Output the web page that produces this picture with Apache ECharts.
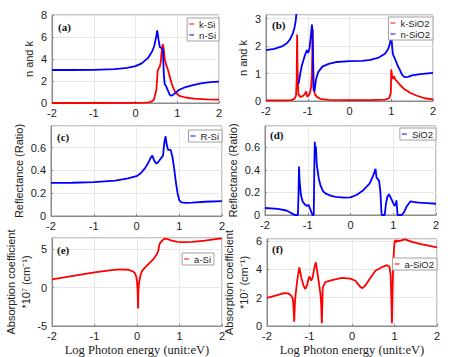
<!DOCTYPE html>
<html><head><meta charset="utf-8">
<script src="https://cdn.jsdelivr.net/npm/echarts@6/dist/echarts.min.js"></script>
<style>html,body{margin:0;padding:0;background:#fff}#c{width:457px;height:357px}</style>
</head><body><div id="c"></div>
<script>
// x tick labels (shared)
const xTicks = [-2, -1, 0, 1, 2];

// (a) n and k for Si
const kSiX = [-2, -1, 0, 0.2, 0.3, 0.38, 0.44, 0.5, 0.53, 0.55, 0.58, 0.6, 0.63, 0.65, 0.67, 0.7, 0.74, 0.78, 0.82, 0.88, 0.95, 1.05, 1.2, 1.4, 1.7, 2];
const kSiY = [0, 0, 0.01, 0.03, 0.06, 0.12, 0.3, 1.2, 2.9, 3.1, 3.3, 3.6, 4.8, 5.35, 5.1, 4.0, 3.4, 3.0, 2.4, 1.6, 1.0, 0.65, 0.5, 0.4, 0.33, 0.3];
const nSiX = [-2, -1.5, -1, -0.5, -0.2, 0, 0.15, 0.3, 0.4, 0.45, 0.5, 0.52, 0.55, 0.58, 0.62, 0.655, 0.68, 0.7, 0.73, 0.78, 0.82, 0.86, 0.9, 0.95, 1.05, 1.2, 1.4, 1.6, 1.8, 2];
const nSiY = [3.0, 3.0, 3.02, 3.08, 3.2, 3.35, 3.6, 4.1, 4.7, 5.2, 6.1, 6.6, 5.8, 5.1, 5.0, 4.9, 2.5, 1.7, 1.55, 1.1, 0.75, 0.65, 0.75, 0.9, 1.2, 1.45, 1.65, 1.8, 1.9, 1.95];

// (b) n and k for SiO2
const kSiO2X = [-2, -1.6, -1.4, -1.32, -1.28, -1.265, -1.255, -1.245, -1.225, -1.18, -1.12, -1.07, -1.04, -1.01, -0.98, -0.95, -0.92, -0.9, -0.88, -0.87, -0.86, -0.83, -0.78, -0.7, -0.5, 0, 0.5, 0.85, 0.95, 0.99, 1.0, 1.02, 1.04, 1.06, 1.08, 1.1, 1.15, 1.2, 1.3, 1.45, 1.6, 1.8, 2];
const kSiO2Y = [0.02, 0.02, 0.03, 0.08, 0.2, 0.8, 2.42, 1.2, 0.25, 0.15, 0.18, 0.25, 0.35, 0.15, 0.2, 0.3, 0.5, 1.0, 2.6, 1.5, 0.5, 0.25, 0.15, 0.08, 0.04, 0.03, 0.03, 0.05, 0.1, 0.3, 1.15, 0.9, 0.8, 0.9, 0.85, 0.78, 0.7, 0.6, 0.45, 0.3, 0.2, 0.1, 0.06];
const nSiO2X = [-2, -1.8, -1.6, -1.5, -1.42, -1.36, -1.32, -1.29, -1.27, -1.26, -1.25, -1.22, -1.18, -1.14, -1.1, -1.06, -1.02, -0.99, -0.96, -0.93, -0.9, -0.89, -0.86, -0.84, -0.8, -0.75, -0.65, -0.5, -0.3, 0, 0.3, 0.5, 0.7, 0.85, 0.93, 0.97, 1.0, 1.02, 1.04, 1.07, 1.1, 1.15, 1.2, 1.26, 1.32, 1.4, 1.5, 1.7, 2];
const nSiO2Y = [1.85, 1.9, 2.0, 2.1, 2.25, 2.45, 2.65, 2.9, 3.2, 3.5, null, 0.62, 1.0, 1.3, 1.5, 1.7, 1.85, 1.75, 1.9, 2.3, 2.78, 2.6, 0.4, 0.35, 0.8, 1.05, 1.25, 1.35, 1.42, 1.45, 1.46, 1.5, 1.58, 1.72, 1.9, 2.1, 2.45, 2.0, 1.7, 1.6, 1.5, 1.3, 1.15, 0.95, 0.87, 0.88, 0.93, 0.98, 1.02];

// (c) reflectance Si
const rSiX = [-2, -1.5, -1, -0.5, -0.2, 0, 0.1, 0.2, 0.28, 0.33, 0.37, 0.41, 0.46, 0.5, 0.56, 0.62, 0.65, 0.68, 0.71, 0.74, 0.8, 0.84, 0.88, 0.92, 0.96, 1.0, 1.05, 1.15, 1.3, 1.6, 2];
const rSiY = [0.29, 0.292, 0.297, 0.31, 0.33, 0.35, 0.375, 0.42, 0.47, 0.51, 0.53, 0.49, 0.46, 0.47, 0.5, 0.53, 0.64, 0.70, 0.62, 0.58, 0.58, 0.52, 0.42, 0.3, 0.2, 0.14, 0.12, 0.115, 0.118, 0.125, 0.13];

// (d) reflectance SiO2
const rSiO2X = [-2, -1.7, -1.5, -1.42, -1.35, -1.3, -1.23, -1.215, -1.205, -1.19, -1.16, -1.12, -1.06, -1.02, -0.98, -0.95, -0.92, -0.89, -0.86, -0.845, -0.835, -0.825, -0.81, -0.79, -0.74, -0.7, -0.64, -0.58, -0.45, -0.35, -0.15, 0, 0.15, 0.3, 0.45, 0.52, 0.56, 0.585, 0.61, 0.64, 0.67, 0.7, 0.72, 0.73, 0.8, 0.83, 0.86, 0.9, 0.97, 1.03, 1.06, 1.075, 1.1, 1.2, 1.26, 1.32, 1.4, 1.5, 1.6, 1.8, 2];
const rSiO2Y = [0.062, 0.055, 0.04, 0.025, 0.01, 0, 0, 0.2, 0.43, 0.3, 0.18, 0.12, 0.09, 0.08, 0.09, 0.06, 0.03, 0, 0, 0.45, 0.65, 0.55, 0.61, 0.45, 0.32, 0.26, 0.21, 0.19, 0.17, 0.16, 0.155, 0.157, 0.18, 0.22, 0.28, 0.34, 0.38, 0.41, 0.33, 0.32, 0.3, 0.2, 0.05, 0, 0, 0.1, 0.16, 0.185, 0.13, 0.08, 0.1, 0.13, 0, 0, 0.03, 0.08, 0.12, 0.115, 0.11, 0.105, 0.1];

// (e) absorption a-Si
const aSiX = [-2, -1.5, -1, -0.6, -0.4, -0.2, -0.1, -0.05, -0.02, 0.0, 0.015, 0.025, 0.035, 0.05, 0.08, 0.12, 0.18, 0.27, 0.38, 0.46, 0.5, 0.53, 0.56, 0.6, 0.65, 0.72, 0.8, 0.95, 1.1, 1.3, 1.6, 1.85, 2];
const aSiY = [1.1, 1.55, 2.0, 2.3, 2.4, 2.35, 2.15, 1.9, 1.5, 0.9, -0.5, -2.7, -0.2, 0.7, 1.6, 2.2, 2.6, 3.1, 3.7, 4.3, 4.8, 5.7, 5.95, 6.2, 6.42, 6.35, 6.2, 6.0, 5.95, 6.0, 6.15, 6.35, 6.45];

// (f) absorption a-SiO2
const aSiO2X = [-2, -1.8, -1.6, -1.5, -1.43, -1.39, -1.375, -1.36, -1.345, -1.33, -1.29, -1.24, -1.19, -1.14, -1.1, -1.06, -1.02, -1.0, -0.96, -0.93, -0.88, -0.85, -0.82, -0.77, -0.74, -0.725, -0.71, -0.695, -0.69, -0.63, -0.47, -0.24, -0.04, 0.08, 0.2, 0.25, 0.31, 0.43, 0.55, 0.7, 0.82, 0.88, 0.91, 0.925, 0.94, 0.955, 0.97, 1.0, 1.02, 1.04, 1.06, 1.1, 1.25, 1.41, 1.65, 2];
const aSiO2Y = [1.98, 2.15, 2.33, 2.3, 2.15, 1.9, 1.2, 0.3, 1.5, 2.15, 3.2, 4.15, 3.4, 2.85, 2.6, 2.85, 3.4, 3.5, 3.2, 3.4, 4.2, 4.5, 3.9, 2.85, 2.2, 1.5, 0.2, 1.8, 2.7, 3.1, 3.25, 3.4, 3.35, 3.2, 2.75, 2.68, 2.85, 3.4, 3.9, 4.15, 4.3, 4.2, 3.6, 2.0, 0.2, 2.5, 4.5, 5.95, 6.07, 5.9, 6.05, 6.0, 6.12, 5.95, 5.77, 5.55];

const RED = '#ff0000', BLUE = '#0000ff';
const SANS = '"Liberation Sans", Arial, sans-serif';
const SERIF = '"Liberation Serif", "Times New Roman", serif';
const AXC = '#8a8a8a';

function pairs(xs, ys) { return xs.map((x, i) => [x, ys[i]]); }

const grids = [
  {left: 52, top: 15, width: 167, height: 88},
  {left: 266, top: 15, width: 167, height: 86},
  {left: 51, top: 126, width: 171, height: 90},
  {left: 265, top: 126, width: 171, height: 89},
  {left: 52, top: 238, width: 170, height: 89},
  {left: 267, top: 239, width: 170, height: 89}
].map(g => Object.assign({show: true, borderColor: AXC, borderWidth: 1, backgroundColor: '#fff'}, g));

const xTitle = 'Log Photon energy (unit:eV)';
const xAxes = grids.map((g, i) => ({
  type: 'value', gridIndex: i, min: xTicks[0], max: xTicks[xTicks.length - 1], interval: 1,
  axisLine: {show: true, onZero: false, lineStyle: {color: AXC}},
  axisTick: {show: true, inside: true, length: 2, lineStyle: {color: AXC}},
  axisLabel: {color: '#222', fontSize: 11, fontFamily: SANS, margin: 4},
  splitLine: {show: true, lineStyle: {color: '#e8e8e8'}},
  name: i >= 4 ? xTitle : '', nameLocation: 'middle', nameGap: 17,
  nameTextStyle: {fontFamily: SERIF, fontSize: 12.5, color: '#222'}
}));

const yCfg = [
  {min: 0, max: 8, interval: 2, name: 'n and k', gap: 11},
  {min: 0, max: 3.13, interval: 1, name: 'n and k', gap: 9},
  {min: 0, max: 0.79, interval: 0.2, name: 'Reflectance (Ratio)', gap: 18},
  {min: 0, max: 0.79, interval: 0.2, name: 'Reflectance (Ratio)', gap: 18},
  {min: -5, max: 6.5, interval: 5, name: 'Absorption coefficient\n*10\u2077 (cm\u207B\u00B9)', gap: 13},
  {min: 0, max: 6.15, interval: 2, name: 'Absorption coefficient\n*10\u2077 (cm\u207B\u00B9)', gap: 14}
];
const yAxes = yCfg.map((c, i) => ({
  type: 'value', gridIndex: i, min: c.min, max: c.max, interval: c.interval,
  axisLine: {show: true, onZero: false, lineStyle: {color: AXC}},
  axisTick: {show: true, inside: true, length: 2, lineStyle: {color: AXC}},
  axisLabel: {color: '#222', fontSize: 11, fontFamily: SANS, margin: 5, showMaxLabel: i === 0},
  splitLine: {show: true, lineStyle: {color: '#e8e8e8'}},
  name: c.name, nameLocation: 'middle', nameGap: c.gap,
  nameTextStyle: {fontFamily: SANS, fontSize: 11, color: '#222', lineHeight: 15}
}));

function line(name, xs, ys, color, idx) {
  return {
    name, type: 'line', xAxisIndex: idx, yAxisIndex: idx, data: pairs(xs, ys),
    showSymbol: false, symbol: 'none', connectNulls: false, smooth: false,
    lineStyle: {color, width: 1.8}, itemStyle: {color}, animation: false
  };
}

const series = [
  line('k-Si', kSiX, kSiY, RED, 0),
  line('n-Si', nSiX, nSiY, BLUE, 0),
  line('k-SiO2', kSiO2X, kSiO2Y, RED, 1),
  line('n-SiO2', nSiO2X, nSiO2Y, BLUE, 1),
  line('R-Si', rSiX, rSiY, BLUE, 2),
  line('SiO2', rSiO2X, rSiO2Y, BLUE, 3),
  line('a-Si', aSiX, aSiY, RED, 4),
  line('a-SiO2', aSiO2X, aSiO2Y, RED, 5)
];

function legend(names, right, top) {
  return {
    data: names, orient: 'vertical', right, top, icon: 'rect', itemWidth: 5, itemHeight: 1,
    itemGap: 1, padding: [1, 3, 1, 2], borderColor: '#a0a0a0', borderWidth: 1, borderRadius: 0,
    backgroundColor: '#fff', selectedMode: false,
    textStyle: {fontSize: 9.5, fontFamily: SANS, color: '#222', lineHeight: 10}
  };
}

const panelLabels = [['(a)', 58, 27], ['(b)', 272, 25], ['(c)', 57, 137], ['(d)', 270, 135], ['(e)', 57, 250], ['(f)', 272, 249]];

const chart = echarts.init(document.getElementById('c'), null, {renderer: 'svg'});
chart.setOption({
  animation: false,
  backgroundColor: '#fff',
  grid: grids,
  xAxis: xAxes,
  yAxis: yAxes,
  legend: [
    legend(['k-Si', 'n-Si'], 457 - 219, 18),
    legend(['k-SiO2', 'n-SiO2'], 457 - 433, 17),
    legend(['R-Si'], 457 - 222, 130),
    legend(['SiO2'], 457 - 436, 128),
    legend(['a-Si'], 457 - 214, 253),
    legend(['a-SiO2'], 457 - 437, 258)
  ],
  graphic: panelLabels.map(p => ({
    type: 'text', x: p[1], y: p[2], z: 100,
    style: {text: p[0], fontFamily: SERIF, fontWeight: 'bold', fontSize: 11, fill: '#111', verticalAlign: 'middle', align: 'left'}
  })),
  series
});
</script></body></html>
